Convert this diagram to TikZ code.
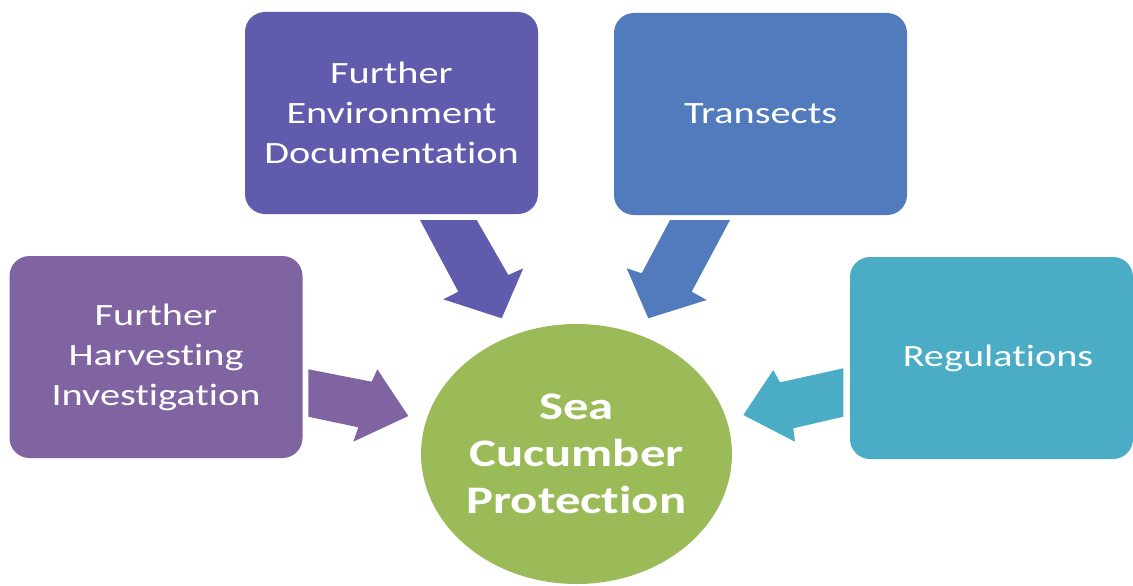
\documentclass[tikz,border=0pt]{standalone}
\usepackage{fontspec}
\setmainfont[FakeStretch=1.3,Ligatures=NoCommon]{Carlito}
\usetikzlibrary{shapes.geometric}
\definecolor{cHarv}{HTML}{8064A2}
\definecolor{cEnv}{HTML}{605BAD}
\definecolor{cTran}{HTML}{527BBD}
\definecolor{cReg}{HTML}{4BACC6}
\definecolor{cSea}{HTML}{9BBB59}
\tikzset{
  boxnode/.style={rectangle, rounded corners=20pt, minimum width=293pt, minimum height=202pt,
    align=center, text=white, inner sep=0pt, font=\fontsize{31}{40}\selectfont},
  hubnode/.style={ellipse, fill=cSea, minimum width=308pt, minimum height=260pt,
    align=center, text=white, inner sep=0pt, font=\bfseries\fontsize{39}{47}\selectfont},
}
\begin{document}
\begin{tikzpicture}[x=1pt,y=-1pt]
\useasboundingbox (0,0) rectangle (1133,586);
\clip (0,0) rectangle (1133,586);
\fill[white] (0,0) rectangle (1133,586);
% boxes
\node[boxnode, fill=cHarv] (harv) at (156,357) {Further\\Harvesting\\Investigation};
\node[boxnode, fill=cEnv] (env) at (391.5,113) {Further\\Environment\\Documentation};
\node[boxnode, fill=cTran] (tran) at (760.5,114) {Transects};
\node[boxnode, fill=cReg, minimum width=283pt] (reg) at (991.5,358) {\hspace*{13pt}Regulations};
% hub
\node[hubnode] (sea) at (576.5,454) {Sea\\Cucumber\\Protection};
% block arrows
\fill[cHarv] (308.3,369.3) -- (371.7,381.7) -- (377.3,369.3) -- (408.3,416) -- (353.3,441.7) -- (358.3,427.3) -- (308.3,416.7) -- cycle;
\fill[cEnv] (420,220) -- (476.7,220) -- (508.3,275) -- (523.3,268.3) -- (501.7,318.3) -- (443.3,299.3) -- (458.3,291.7) -- cycle;
\fill[cTran] (670,220) -- (730,220) -- (691.7,291.7) -- (706.7,300) -- (648.3,318.3) -- (626.7,268.3) -- (641.7,273.3) -- cycle;
\fill[cReg] (843.3,368.3) -- (780,382.3) -- (773.3,370) -- (743.3,415) -- (795,441.7) -- (793.3,428.3) -- (843.3,416.7) -- cycle;
\end{tikzpicture}
\end{document}
